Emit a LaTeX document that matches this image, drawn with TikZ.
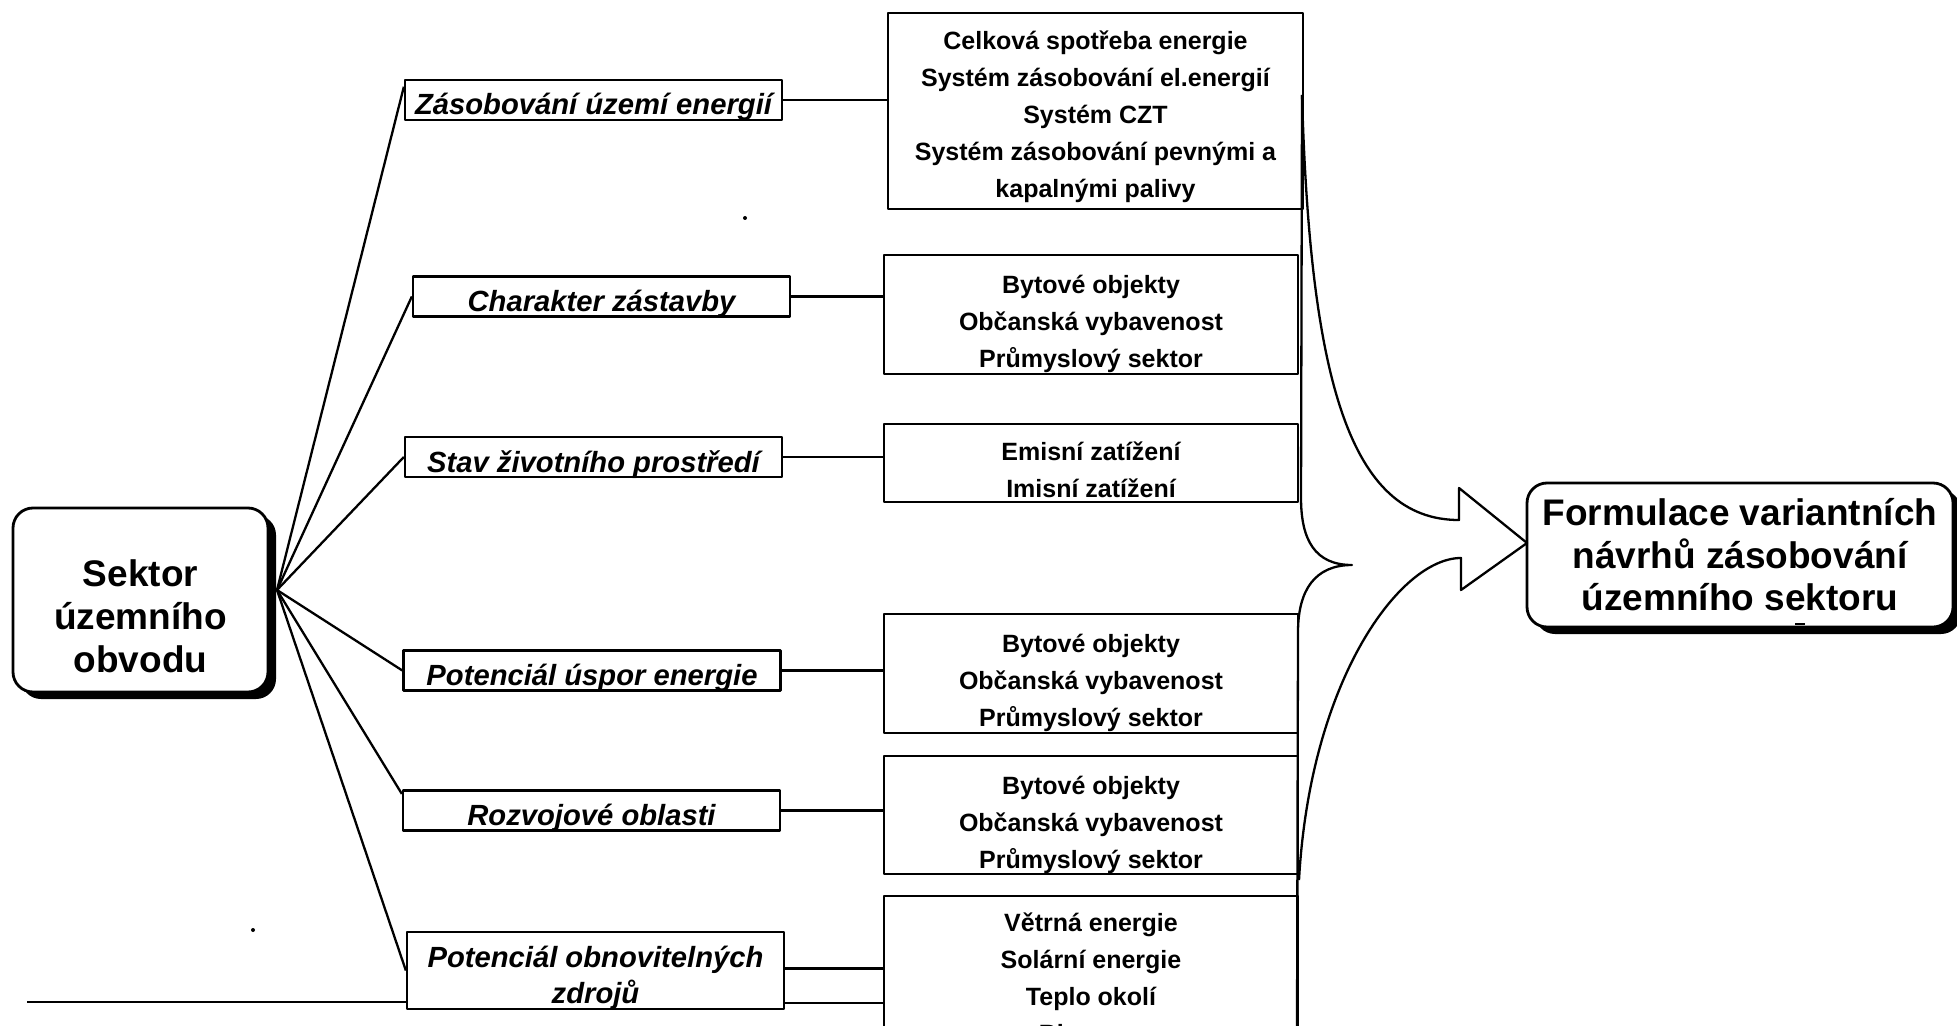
\documentclass[tikz,border=0pt]{standalone}
\usepackage{fontspec}
\setmainfont{Liberation Sans}
\usetikzlibrary{shadows}
\begin{document}
\begin{tikzpicture}[x=0.5pt,y=-0.5pt,line width=1.15pt,line join=round]
  \tikzset{
    mainbox/.style={draw,line width=1.4pt,rounded corners=10pt,fill=white,align=center,
      font=\fontsize{18.5pt}{21.3pt}\selectfont\bfseries,
      drop shadow={opacity=1,fill=black,shadow xshift=4pt,shadow yshift=-3.5pt}},
    topicbox/.style={draw,fill=white,inner sep=0pt,minimum width=188.5pt,text height=17.5pt,text depth=2.5pt,
      font=\fontsize{14.6pt}{18pt}\selectfont\bfseries\itshape},
    itembox/.style={draw,fill=white,minimum width=207pt,inner ysep=1pt,align=center,text depth=0pt,
      font=\fontsize{12.5pt}{18.5pt}\selectfont\bfseries}
  }
  \useasboundingbox (0,0) rectangle (1957,1026);
  % main boxes
  \node[mainbox,text height=72pt,text depth=0pt,minimum width=127.5pt,minimum height=92pt] (sektor) at (140.5,600) {Sektor\\územního\\obvodu};
  \node[mainbox,minimum width=213pt,minimum height=72pt] (formulace) at (1740,555) {Formulace variantních\\návrhů zásobování\\územního sektoru};
  % topics
  \node[topicbox] (zasobovani) at (593.5,100) {Zásobování území energií};
  \node[topicbox] (charakter) at (601.5,296.5) {Charakter zástavby};
  \node[topicbox] (prostredi) at (593.5,457) {Stav životního prostředí};
  \node[topicbox] (uspory) at (592,670.5) {Potenciál úspor energie};
  \node[topicbox] (rozvoj) at (591.5,810.5) {Rozvojové oblasti};
  \node[topicbox,align=center,text height=35.5pt,text depth=3pt] (obnovitelne) at (595.5,970.5) {Potenciál obnovitelných\\zdrojů};
  % items
  \node[itembox,text height=86.5pt,minimum width=207.5pt,minimum height=98pt] (spotreba) at (1095.5,111) {Celková spotřeba energie\\Systém zásobování el.energií\\Systém CZT\\Systém zásobování pevnými a\\kapalnými palivy};
  \node[itembox,text height=53pt,minimum height=59.5pt] (objekty1) at (1091,314.5) {Bytové objekty\\Občanská vybavenost\\Průmyslový sektor};
  \node[itembox,text height=34.5pt,minimum height=39pt] (zatizeni) at (1091,463) {Emisní zatížení\\Imisní zatížení};
  \node[itembox,text height=53pt,minimum height=59.5pt] (objekty2) at (1091,673.5) {Bytové objekty\\Občanská vybavenost\\Průmyslový sektor};
  \node[itembox,text height=53pt,minimum height=59pt] (objekty3) at (1091,815) {Bytové objekty\\Občanská vybavenost\\Průmyslový sektor};
  \node[itembox,text height=68.5pt,minimum height=78pt] (zdroje) at (1091,974) {Větrná energie\\Solární energie\\Teplo okolí\\Biomasa};
  % fan from the sector box
  \coordinate (hub) at (277,590);
  \draw (hub) -- (zasobovani.176);
  \draw (hub) -- (charakter.west);
  \draw (hub) -- (prostredi.west);
  \draw (hub) -- (uspory.west);
  \draw (hub) -- (rozvoj.175);
  \draw (hub) -- (obnovitelne.west);
  \coordinate (leftend) at (27,1002);
  \draw (leftend) -- (leftend -| obnovitelne.west);
  % topic to items
  \draw (zasobovani.east) -- (zasobovani.east -| spotreba.west);
  \draw (charakter.east) -- (charakter.east -| objekty1.west);
  \draw (prostredi.east) -- (prostredi.east -| zatizeni.west);
  \draw (uspory.east) -- (uspory.east -| objekty2.west);
  \draw (rozvoj.east) -- (rozvoj.east -| objekty3.west);
  \draw ([yshift=1pt]obnovitelne.east) -- ([yshift=1pt]obnovitelne.east -| zdroje.west);
  \draw ([yshift=3.5pt]obnovitelne.south east) -- ([yshift=3.5pt]obnovitelne.south east -| zdroje.west);
  % brace and arrow
  \coordinate (bartop) at (1302,95);
  \coordinate (barup) at (1301,498);
  \coordinate (bracetip) at (1352,565);
  \coordinate (barlow) at (1298,632);
  \coordinate (barend) at (1297,1030);
  \draw (bartop) -- (barup) .. controls (1301,540) and (1315,565) .. (bracetip)
    .. controls (1315,565) and (1298,590) .. (barlow) -- (barend);
  \coordinate (notchup) at (1459,520);
  \coordinate (headtop) at (1459,488);
  \coordinate (arrowtip) at (1527,543);
  \coordinate (headlow) at (1461,590);
  \coordinate (notchlow) at (1461,558);
  \coordinate (curveend) at (1299,880);
  \draw (bartop) .. controls (1310,380) and (1350,520) .. (notchup) -- (headtop) -- (arrowtip)
    -- (headlow) -- (notchlow) .. controls (1400,558) and (1310,680) .. (curveend);
  % specks
  \fill (745,218) circle (1pt);
  \fill (253,930) circle (1pt);
  \draw (1795,624) -- (1805,624);
\end{tikzpicture}
\end{document}
